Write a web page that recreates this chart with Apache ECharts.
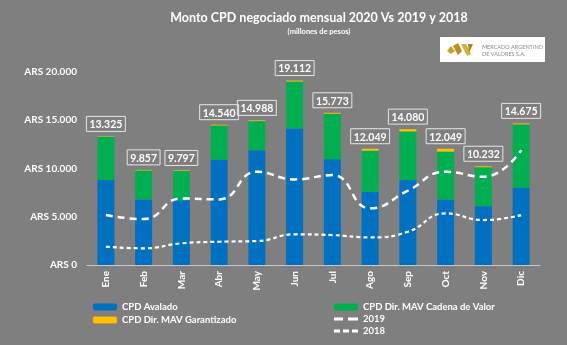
<!DOCTYPE html>
<html>
<head>
<meta charset="utf-8">
<script src="https://cdn.jsdelivr.net/npm/echarts@6/dist/echarts.min.js"></script>
<style>
  html, body { margin: 0; padding: 0; background: #7f7f7f; }
  #chart { width: 567px; height: 345px; }
</style>
</head>
<body>
<div id="chart"></div>
<script>
// Monthly CPD volume, millions of pesos
const months = ['Ene', 'Feb', 'Mar', 'Abr', 'May', 'Jun', 'Jul', 'Ago', 'Sep', 'Oct', 'Nov', 'Dic'];
const avalado2020 = [8800, 6800, 6700, 10940, 11900, 14150, 10970, 7590, 8800, 6800, 6100, 8040];
const cadenaValor2020 = [4475, 2997, 3037, 3520, 3008, 4862, 4703, 4259, 5040, 4949, 4032, 6535];
const garantizado2020 = [50, 60, 60, 80, 80, 100, 100, 200, 240, 300, 100, 100];
const total2019 = [5175, 4760, 6900, 6800, 9660, 8870, 9315, 5870, 7700, 9660, 9140, 11900];
const total2018 = [1900, 1730, 2245, 2410, 2480, 3175, 3100, 2860, 3450, 5350, 4660, 5175];
const yTicks = [0, 5000, 10000, 15000, 20000];

const fmt = v => String(Math.round(v)).replace(/\B(?=(\d{3})+(?!\d))/g, '.');
const FONT = 'Lato, "Open Sans", sans-serif';
const WHITE = '#ffffff';

// legend icons: long dashes for 2019, short dashes for 2018
const ICON_2019 = 'path://M0,0h9v3h-9z M14,0h10v3h-10z';
const ICON_2018 = 'path://M0,0h6v3h-6z M9,0h6v3h-6z M18,0h6v3h-6z';

const legendText = { color: WHITE, fontSize: 9.5, fontWeight: 'bold', fontFamily: FONT };

const chart = echarts.init(document.getElementById('chart'), null, { renderer: 'canvas' });

chart.setOption({
  backgroundColor: '#7f7f7f',
  animation: false,
  textStyle: { fontFamily: FONT },
  title: {
    text: 'Monto CPD negociado mensual 2020 Vs 2019 y 2018',
    subtext: '(millones de pesos)',
    left: 314, top: 6, textAlign: 'center',
    itemGap: 4,
    textStyle: { color: WHITE, fontSize: 12.5, fontWeight: 'bold', fontFamily: FONT },
    subtextStyle: { color: WHITE, fontSize: 7.5, fontWeight: 'bold', fontFamily: FONT }
  },
  grid: { left: 87, right: 27, top: 72, bottom: 80, containLabel: false },
  legend: [
    {
      data: ['CPD Avalado', 'CPD Dir. MAV Garantizado'],
      orient: 'vertical', left: 93, top: 302, height: 43, itemGap: 3,
      itemWidth: 24, itemHeight: 7, padding: 0,
      textStyle: legendText
    },
    {
      data: [
        'CPD Dir. MAV Cadena de Valor',
        { name: '2019', icon: ICON_2019, itemStyle: { color: WHITE } },
        { name: '2018', icon: ICON_2018, itemStyle: { color: WHITE } }
      ],
      orient: 'vertical', left: 334, top: 302, height: 43, itemGap: 2,
      itemWidth: 24, itemHeight: 7, padding: 0,
      textStyle: legendText
    }
  ],
  xAxis: {
    type: 'category',
    data: months,
    axisLine: { show: true, lineStyle: { color: '#c8c8c8', width: 1 } },
    axisTick: { show: false },
    axisLabel: { color: WHITE, fontSize: 10, fontWeight: 'bold', rotate: 90, margin: 6, fontFamily: FONT }
  },
  yAxis: {
    type: 'value',
    min: yTicks[0], max: yTicks[yTicks.length - 1], interval: yTicks[1] - yTicks[0],
    splitLine: { show: false },
    axisLine: { show: false },
    axisTick: { show: false },
    axisLabel: { color: WHITE, fontSize: 10, fontWeight: 'bold', margin: 10, fontFamily: FONT,
      formatter: v => 'ARS ' + fmt(v) }
  },
  series: [
    {
      name: 'CPD Avalado', type: 'bar', stack: 'cpd', barWidth: '45%',
      itemStyle: { color: '#0070c0' }, data: avalado2020
    },
    {
      name: 'CPD Dir. MAV Cadena de Valor', type: 'bar', stack: 'cpd',
      itemStyle: { color: '#00b050' }, data: cadenaValor2020
    },
    {
      name: 'CPD Dir. MAV Garantizado', type: 'bar', stack: 'cpd',
      itemStyle: { color: '#ffc000' }, data: garantizado2020,
      label: {
        show: true, position: 'top', distance: 5,
        color: WHITE, fontSize: 10.5, fontWeight: 'bold', fontFamily: FONT,
        borderColor: '#e6e6e6', borderWidth: 1, padding: [3, 3, 1, 3],
        formatter: p => fmt(avalado2020[p.dataIndex] + cadenaValor2020[p.dataIndex] + garantizado2020[p.dataIndex])
      }
    },
    {
      name: '2019', type: 'line', smooth: true, symbol: 'none', z: 5,
      lineStyle: { color: WHITE, width: 2.5, type: [7, 5] },
      itemStyle: { color: WHITE },
      data: total2019
    },
    {
      name: '2018', type: 'line', smooth: true, symbol: 'none', z: 5,
      lineStyle: { color: WHITE, width: 2.2, type: [4, 3] },
      itemStyle: { color: WHITE },
      data: total2018
    }
  ],
  graphic: [
    {
      type: 'group', left: 440, top: 37,
      children: [
        { type: 'rect', shape: { x: 0, y: 0, width: 105, height: 25 }, style: { fill: '#ffffff' } },
        // gold MAV mark
        { type: 'polygon', shape: { points: [[7, 14], [11, 9], [15, 14], [11, 17]] }, style: { fill: '#c9a227' } },
        { type: 'polygon', shape: { points: [[13, 9], [18, 6], [22, 14], [18, 18]] }, style: { fill: '#b8901c' } },
        { type: 'polygon', shape: { points: [[21, 7], [26, 7], [31, 17], [27, 19]] }, style: { fill: '#d4b23a' } },
        { type: 'polygon', shape: { points: [[28, 7], [33, 7], [29, 16]] }, style: { fill: '#a8841a' } },
        { type: 'text', style: { x: 42, y: 7, text: 'MERCADO ARGENTINO\nDE VALORES S.A.', fill: '#8a8a8a',
            fontSize: 5.5, lineHeight: 7, fontFamily: FONT } }
      ]
    }
  ]
});
</script>
</body>
</html>
